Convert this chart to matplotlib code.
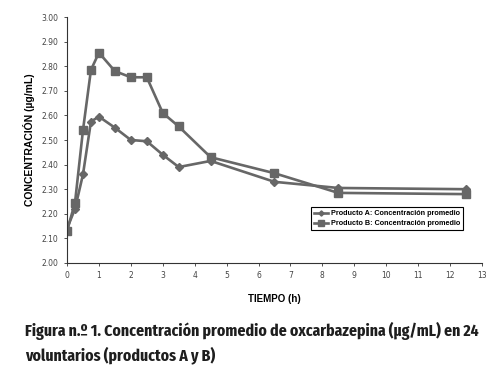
import matplotlib
matplotlib.use("Agg")
import matplotlib.pyplot as plt
from matplotlib.ticker import FormatStrFormatter, MultipleLocator

time_h = [0, 0.25, 0.5, 0.75, 1, 1.5, 2, 2.5, 3, 3.5, 4.5, 6.5, 8.5, 12.5]
prod_a = [2.14, 2.22, 2.36, 2.575, 2.595, 2.55, 2.50, 2.495, 2.44, 2.39, 2.415, 2.33, 2.305, 2.30]
prod_b = [2.13, 2.245, 2.54, 2.785, 2.855, 2.78, 2.755, 2.755, 2.61, 2.555, 2.43, 2.365, 2.285, 2.28]
label_a = "Producto A: Concentración promedio"
label_b = "Producto B: Concentración promedio"
caption = ("Figura n.º 1. Concentración promedio de oxcarbazepina (µg/mL) en 24\n"
           "voluntarios (productos A y B)")

fig = plt.figure(figsize=(5.02, 3.74), dpi=100)
ax = fig.add_axes([0.1335, 0.2968, 0.8265, 0.6577])
col = "#676767"
ax.plot(time_h, prod_a, color=col, lw=1.9, marker="D", ms=3.8, label=label_a)
ax.plot(time_h, prod_b, color=col, lw=1.9, marker="s", ms=6, label=label_b)

ax.set_xlim(0, 13)
ax.set_ylim(2.0, 3.0)
ax.xaxis.set_major_locator(MultipleLocator(1))
ax.yaxis.set_major_locator(MultipleLocator(0.1))
ax.yaxis.set_major_formatter(FormatStrFormatter("%.2f"))
for s in ["top", "right"]:
    ax.spines[s].set_visible(False)
for s in ["left", "bottom"]:
    ax.spines[s].set_color("#333333")
    ax.spines[s].set_linewidth(0.8)
ax.tick_params(labelsize=5.5, labelcolor="#444444", length=2.5, width=0.6, color="#333333")

ax.set_ylabel("CONCENTRACIÓN (µg/mL)", fontsize=7.5, fontweight="bold",
              family="Liberation Sans", labelpad=5)
ax.set_xlabel("TIEMPO (h)", fontsize=7, fontweight="bold",
              family="Liberation Sans", labelpad=10)

leg = ax.legend(loc="lower right", bbox_to_anchor=(0.963, 0.12),
                prop={"weight": "bold", "size": 5.2, "family": "Liberation Sans"},
                frameon=True, fancybox=False, edgecolor="black", framealpha=1,
                borderpad=0.35, handlelength=2.0, handletextpad=0.4, labelspacing=0.45,
                markerscale=0.7)
leg.get_frame().set_linewidth(0.8)

fig.text(0.05, 1 - 360 / 374, caption, fontsize=12.3, fontweight="bold", color="#1e1e1e",
         family=["Fira Sans Extra Condensed", "DejaVu Sans"], ha="left", va="baseline",
         linespacing=1.4)

fig.savefig("out.png", dpi=100)
